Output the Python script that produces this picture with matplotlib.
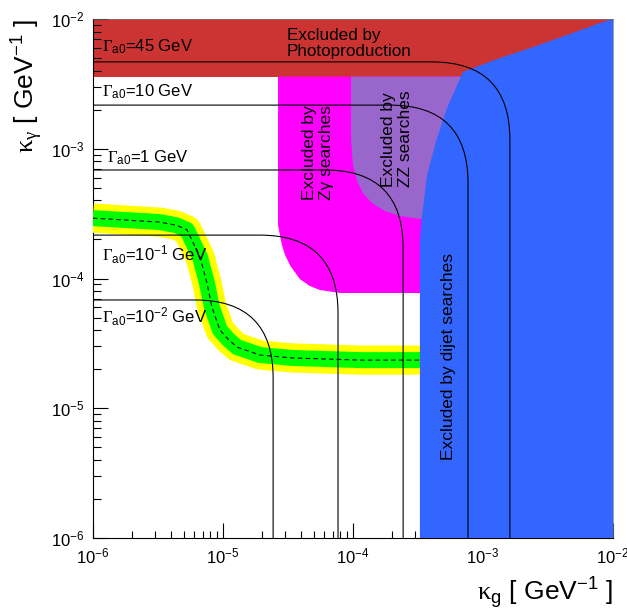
import numpy as np
import matplotlib
matplotlib.use("Agg")
import matplotlib.pyplot as plt
from matplotlib.path import Path
from matplotlib.patches import PathPatch, Polygon
from matplotlib.ticker import LogLocator

plt.rcParams['font.family'] = ['Liberation Sans', 'DejaVu Sans']
plt.rcParams['mathtext.fontset'] = 'custom'
plt.rcParams['mathtext.rm'] = 'Liberation Sans'
plt.rcParams['mathtext.it'] = 'Liberation Sans:italic'
plt.rcParams['mathtext.sf'] = 'Liberation Serif'

# Gamma_a0 contours: label, horizontal asymptote (kappa_gamma), vertical asymptote (kappa_g)
gamma_labels = ['45', '10', '1', '10$^{\\mathrm{-1}}$', '10$^{\\mathrm{-2}}$']
gamma_kgam0 = [4.67e-3, 2.17e-3, 6.86e-4, 2.16e-4, 6.83e-5]
gamma_kg0 = [1.61e-3, 7.67e-4, 2.43e-4, 7.67e-5, 2.43e-5]
gamma_label_kgam = [6.1e-3, 2.74e-3, 8.5e-4, 1.52e-4, 5.05e-5]

# expected limit (dashed) with 1/2 sigma bands
exp_kg = [1e-6, 3.27e-6, 4.4e-6, 5.28e-6, 6.65e-6, 7.53e-6, 8.22e-6, 9.48e-6,
          1.1e-5, 1.28e-5, 1.93e-5, 3.45e-5, 1.13e-4, 5e-4]
exp_kgam = [2.92e-4, 2.72e-4, 2.57e-4, 2.37e-4, 1.47e-4, 9.2e-5, 6.0e-5, 4.0e-5,
            3.39e-5, 2.96e-5, 2.57e-5, 2.44e-5, 2.35e-5, 2.35e-5]

# excluded regions
photo_floor = 3.6e-3
dijet_kg = [3.27e-4, 3.27e-4, 3.4e-4, 3.71e-4, 4.43e-4, 5.28e-4, 7.02e-4,
            1.35e-3, 2.43e-3, 4.43e-3, 7.94e-3, 1e-2, 1e-2]
dijet_kgam = [1e-6, 1.98e-4, 3.08e-4, 6.28e-4, 1.21e-3, 2.06e-3, 3.91e-3,
              5.0e-3, 6.08e-3, 7.53e-3, 9.31e-3, 1e-2, 1e-6]
zg_kg = [2.65e-5, 2.65e-5, 2.74e-5, 2.84e-5, 3.0e-5, 3.3e-5, 3.9e-5, 4.66e-5,
         5.57e-5, 7.95e-5, 1e-3, 1e-3]
zg_kgam = [3.6e-3, 2.58e-4, 2.16e-4, 1.81e-4, 1.52e-4, 1.25e-4, 9.9e-5, 8.75e-5,
           8.15e-5, 7.73e-5, 7.73e-5, 3.6e-3]
zz_kg = [9.66e-5, 9.66e-5, 1.0e-4, 1.07e-4, 1.19e-4, 1.4e-4, 1.76e-4, 2.3e-4,
         3.27e-4, 1e-3, 1e-3]
zz_kgam = [3.6e-3, 1.17e-3, 7.5e-4, 5.74e-4, 4.56e-4, 3.82e-4, 3.31e-4, 3.03e-4,
           2.88e-4, 2.88e-4, 3.6e-3]

fig = plt.figure(figsize=(6.27, 6.10), dpi=100)
ax = fig.add_axes([93/627, 1-538/610, 520/627, 519/610])
ax.set_xscale('log')
ax.set_yscale('log')
ax.set_xlim(1e-6, 1e-2)
ax.set_ylim(1e-6, 1e-2)

ax.axhspan(photo_floor, 1e-2, color='#cc3333', lw=0, zorder=1)
ax.add_patch(Polygon(np.column_stack([zg_kg, zg_kgam]), closed=True, fc='#ff00ff', lw=0, zorder=2))
ax.add_patch(Polygon(np.column_stack([zz_kg, zz_kgam]), closed=True, fc='#9966cc', lw=0, zorder=3))

ax.plot(exp_kg, exp_kgam, color='#ffff00', lw=21, solid_capstyle='butt', solid_joinstyle='round', zorder=4)
ax.plot(exp_kg, exp_kgam, color='#00ff00', lw=11.5, solid_capstyle='butt', solid_joinstyle='round', zorder=4)
ax.plot(exp_kg, exp_kgam, color='k', lw=0.8, ls=(0, (4, 3)), zorder=4)

ax.add_patch(Polygon(np.column_stack([dijet_kg, dijet_kgam]), closed=True, fc='#3366ff', lw=0, zorder=5))

# Gamma contours: flat, rounded corner, then vertical
span = 10**0.6
for lab, y0, x0, ly in zip(gamma_labels, gamma_kgam0, gamma_kg0, gamma_label_kgam):
    verts = [(1e-6, y0), (x0/span, y0), (x0, y0), (x0, y0/span), (x0, 1e-6)]
    codes = [Path.MOVETO, Path.LINETO, Path.CURVE3, Path.CURVE3, Path.LINETO]
    ax.add_patch(PathPatch(Path(verts, codes), fill=False, ec='k', lw=0.8, zorder=6))
    lx = 1.28e-6 if lab == '1' else 1.17e-6
    ax.text(lx, ly, '$\\mathsf{\u0393}_{\\mathrm{a0}}$=' + lab + ' GeV', fontsize=12,
            ha='left', va='center', zorder=7)

ax.text(3.1e-5, 6.5e-3, 'Excluded by\nPhotoproduction', fontsize=12.3, ha='left',
        va='center', linespacing=1.05, zorder=7)
ax.text(5.38e-5, 4.03e-4, 'Excluded by\nZ\u03b3 searches', fontsize=12.5, rotation=90,
        ha='center', va='bottom', multialignment='left', zorder=7)
ax.text(2.18e-4, 5.07e-4, 'Excluded by\nZZ searches', fontsize=12.5, rotation=90,
        ha='center', va='bottom', multialignment='left', zorder=7)
ax.text(5.38e-4, 3.99e-6, 'Excluded by dijet searches', fontsize=12.5, rotation=90,
        ha='center', va='bottom', zorder=7)

ax.xaxis.set_major_locator(LogLocator(base=10, numticks=10))
ax.yaxis.set_major_locator(LogLocator(base=10, numticks=10))
ax.xaxis.set_minor_locator(LogLocator(base=10, subs=np.arange(2, 10), numticks=20))
ax.yaxis.set_minor_locator(LogLocator(base=10, subs=np.arange(2, 10), numticks=20))
ax.tick_params(which='both', direction='in', top=False, right=False, labelsize=12, width=0.8)
ax.tick_params(which='major', length=10.8, pad=6)
ax.tick_params(which='minor', length=5.4)
for s in ['top', 'right']:
    ax.spines[s].set_linewidth(0.5)
    ax.spines[s].set_color('#777777')

ax.set_xlabel('$\\mathsf{\u03ba}_{\\mathrm{g}}$ [ GeV$^{\\mathrm{-1}}$ ]', fontsize=19, ha='right')
ax.xaxis.set_label_coords(1.0, -0.071)
ax.set_ylabel('$\\mathsf{\u03ba}_{\\mathsf{\u03b3}}$ [ GeV$^{\\mathrm{-1}}$ ]', fontsize=19, ha='right')
ax.yaxis.set_label_coords(-0.092, 1.0)

fig.savefig('out.png', dpi=100)
